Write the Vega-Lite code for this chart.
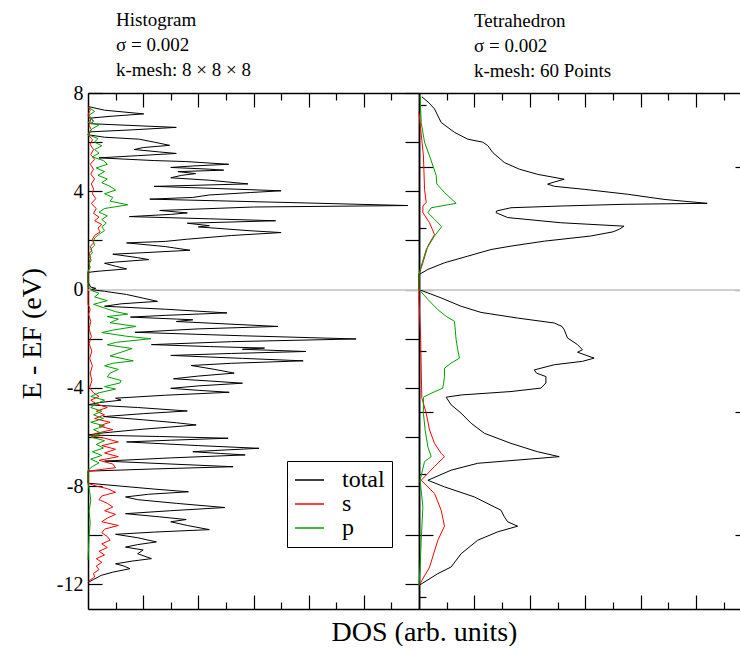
{
"$schema": "https://vega.github.io/schema/vega-lite/v6.json",
"bounds": "flush",
"spacing": 0,
"padding": {"left": 18, "top": 11, "right": 0, "bottom": 0},
"resolve": {"scale": {"color": "independent"}},
"config": {
  "font": "Liberation Serif",
  "view": {"stroke": null},
  "axis": {"grid": false, "labelFont": "Liberation Serif", "labelFontSize": 20, "labelColor": "black", "tickColor": "black", "domainColor": "black", "domainWidth": 1.5, "tickWidth": 1.2, "titleFont": "Liberation Serif", "titleFontWeight": "normal", "titleColor": "black", "titleFontSize": 28},
  "title": {"font": "Liberation Serif", "fontSize": 19, "fontWeight": "normal", "color": "black", "anchor": "start", "frame": "group", "lineHeight": 25},
  "legend": {"labelFont": "Liberation Serif", "labelFontSize": 24, "labelColor": "black"}
},
"datasets": {
"hist": [
{"E":7.45,"v":0,"o":"total"},{"E":7.3,"v":0.3,"o":"total"},{"E":7.15,"v":1.01,"o":"total"},{"E":7.05,"v":0.4,"o":"total"},{"E":6.98,"v":0.05,"o":"total"},{"E":6.85,"v":0.1,"o":"total"},{"E":6.75,"v":0.05,"o":"total"},{"E":6.6,"v":1.6,"o":"total"},{"E":6.5,"v":0.8,"o":"total"},{"E":6.42,"v":0.05,"o":"total"},{"E":6.3,"v":0,"o":"total"},{"E":6.2,"v":0.3,"o":"total"},{"E":6.12,"v":0.93,"o":"total"},{"E":6.0,"v":1.2,"o":"total"},{"E":5.87,"v":1.48,"o":"total"},{"E":5.78,"v":1.0,"o":"total"},{"E":5.7,"v":0.84,"o":"total"},{"E":5.6,"v":1.3,"o":"total"},{"E":5.54,"v":1.6,"o":"total"},{"E":5.45,"v":0.9,"o":"total"},{"E":5.36,"v":0.2,"o":"total"},{"E":5.25,"v":1.2,"o":"total"},{"E":5.21,"v":1.77,"o":"total"},{"E":5.1,"v":2.55,"o":"total"},{"E":5.03,"v":1.9,"o":"total"},{"E":4.97,"v":1.5,"o":"total"},{"E":4.9,"v":2.2,"o":"total"},{"E":4.86,"v":2.46,"o":"total"},{"E":4.8,"v":1.63,"o":"total"},{"E":4.72,"v":1.95,"o":"total"},{"E":4.65,"v":1.7,"o":"total"},{"E":4.55,"v":1.5,"o":"total"},{"E":4.45,"v":2.2,"o":"total"},{"E":4.3,"v":2.9,"o":"total"},{"E":4.2,"v":1.2,"o":"total"},{"E":4.1,"v":2.5,"o":"total"},{"E":4.02,"v":3.5,"o":"total"},{"E":3.95,"v":2.95,"o":"total"},{"E":3.85,"v":2.2,"o":"total"},{"E":3.75,"v":1.9,"o":"total"},{"E":3.68,"v":1.12,"o":"total"},{"E":3.55,"v":3.5,"o":"total"},{"E":3.42,"v":5.8,"o":"total"},{"E":3.36,"v":3.0,"o":"total"},{"E":3.22,"v":1.3,"o":"total"},{"E":3.12,"v":1.8,"o":"total"},{"E":3.06,"v":1.5,"o":"total"},{"E":2.97,"v":0.75,"o":"total"},{"E":2.88,"v":2.2,"o":"total"},{"E":2.8,"v":3.4,"o":"total"},{"E":2.7,"v":1.8,"o":"total"},{"E":2.6,"v":2.2,"o":"total"},{"E":2.55,"v":2.0,"o":"total"},{"E":2.4,"v":2.9,"o":"total"},{"E":2.32,"v":3.5,"o":"total"},{"E":2.2,"v":2.6,"o":"total"},{"E":2.05,"v":1.8,"o":"total"},{"E":1.96,"v":1.4,"o":"total"},{"E":1.9,"v":0.7,"o":"total"},{"E":1.75,"v":1.4,"o":"total"},{"E":1.6,"v":1.85,"o":"total"},{"E":1.5,"v":1.0,"o":"total"},{"E":1.44,"v":0.45,"o":"total"},{"E":1.3,"v":0.9,"o":"total"},{"E":1.22,"v":1.1,"o":"total"},{"E":1.12,"v":0.5,"o":"total"},{"E":1.07,"v":0.3,"o":"total"},{"E":0.95,"v":0.5,"o":"total"},{"E":0.84,"v":0.7,"o":"total"},{"E":0.75,"v":0.2,"o":"total"},{"E":0.7,"v":0,"o":"total"},{"E":0.3,"v":0,"o":"total"},{"E":0.1,"v":0.05,"o":"total"},{"E":0.05,"v":0.14,"o":"total"},{"E":0.0,"v":0.05,"o":"total"},
{"E":-0.07,"v":0.3,"o":"total"},{"E":-0.2,"v":0.7,"o":"total"},{"E":-0.35,"v":1.0,"o":"total"},{"E":-0.48,"v":1.26,"o":"total"},{"E":-0.58,"v":0.6,"o":"total"},{"E":-0.68,"v":0.3,"o":"total"},{"E":-0.8,"v":1.4,"o":"total"},{"E":-0.95,"v":2.52,"o":"total"},{"E":-1.05,"v":1.4,"o":"total"},{"E":-1.12,"v":0.77,"o":"total"},{"E":-1.2,"v":1.6,"o":"total"},{"E":-1.23,"v":1.9,"o":"total"},{"E":-1.3,"v":1.6,"o":"total"},{"E":-1.5,"v":3.44,"o":"total"},{"E":-1.6,"v":2.0,"o":"total"},{"E":-1.74,"v":0.85,"o":"total"},{"E":-1.88,"v":2.8,"o":"total"},{"E":-2.01,"v":4.86,"o":"total"},{"E":-2.12,"v":2.6,"o":"total"},{"E":-2.24,"v":1.15,"o":"total"},{"E":-2.32,"v":2.2,"o":"total"},{"E":-2.38,"v":3.2,"o":"total"},{"E":-2.43,"v":2.8,"o":"total"},{"E":-2.52,"v":3.95,"o":"total"},{"E":-2.6,"v":2.6,"o":"total"},{"E":-2.68,"v":1.5,"o":"total"},{"E":-2.8,"v":2.8,"o":"total"},{"E":-2.9,"v":3.9,"o":"total"},{"E":-3.0,"v":2.6,"o":"total"},{"E":-3.09,"v":1.87,"o":"total"},{"E":-3.25,"v":2.3,"o":"total"},{"E":-3.4,"v":2.65,"o":"total"},{"E":-3.52,"v":2.0,"o":"total"},{"E":-3.63,"v":1.55,"o":"total"},{"E":-3.72,"v":2.2,"o":"total"},{"E":-3.81,"v":2.8,"o":"total"},{"E":-3.92,"v":2.0,"o":"total"},{"E":-4.02,"v":1.5,"o":"total"},{"E":-4.1,"v":2.0,"o":"total"},{"E":-4.18,"v":2.56,"o":"total"},{"E":-4.3,"v":1.4,"o":"total"},{"E":-4.42,"v":0.5,"o":"total"},{"E":-4.5,"v":0.6,"o":"total"},{"E":-4.6,"v":0.2,"o":"total"},{"E":-4.69,"v":0,"o":"total"},{"E":-4.8,"v":0.9,"o":"total"},{"E":-4.94,"v":1.8,"o":"total"},{"E":-5.05,"v":1.0,"o":"total"},{"E":-5.17,"v":0.28,"o":"total"},{"E":-5.3,"v":1.0,"o":"total"},{"E":-5.42,"v":1.6,"o":"total"},{"E":-5.51,"v":1.96,"o":"total"},{"E":-5.7,"v":0.9,"o":"total"},{"E":-5.85,"v":0.2,"o":"total"},{"E":-5.92,"v":0,"o":"total"},{"E":-5.98,"v":1.3,"o":"total"},{"E":-6.05,"v":2.54,"o":"total"},{"E":-6.13,"v":1.5,"o":"total"},{"E":-6.2,"v":0.7,"o":"total"},{"E":-6.35,"v":2.0,"o":"total"},{"E":-6.46,"v":3.1,"o":"total"},{"E":-6.55,"v":2.3,"o":"total"},{"E":-6.6,"v":1.9,"o":"total"},{"E":-6.67,"v":2.4,"o":"total"},{"E":-6.73,"v":2.85,"o":"total"},{"E":-6.85,"v":1.5,"o":"total"},{"E":-6.98,"v":0.3,"o":"total"},{"E":-7.1,"v":1.5,"o":"total"},{"E":-7.21,"v":2.63,"o":"total"},{"E":-7.3,"v":1.2,"o":"total"},{"E":-7.39,"v":0,"o":"total"},{"E":-7.88,"v":0,"o":"total"},{"E":-8.0,"v":0.6,"o":"total"},{"E":-8.12,"v":1.2,"o":"total"},{"E":-8.23,"v":1.82,"o":"total"},{"E":-8.33,"v":1.1,"o":"total"},{"E":-8.44,"v":0.68,"o":"total"},{"E":-8.55,"v":0.9,"o":"total"},{"E":-8.7,"v":1.6,"o":"total"},{"E":-8.87,"v":2.48,"o":"total"},{"E":-9.0,"v":1.5,"o":"total"},{"E":-9.12,"v":0.68,"o":"total"},{"E":-9.25,"v":1.3,"o":"total"},{"E":-9.36,"v":1.78,"o":"total"},{"E":-9.45,"v":1.5,"o":"total"},{"E":-9.6,"v":1.8,"o":"total"},{"E":-9.77,"v":2.2,"o":"total"},{"E":-9.87,"v":1.2,"o":"total"},{"E":-9.96,"v":0.5,"o":"total"},{"E":-10.1,"v":0.9,"o":"total"},{"E":-10.27,"v":1.24,"o":"total"},{"E":-10.38,"v":0.9,"o":"total"},{"E":-10.48,"v":0.68,"o":"total"},{"E":-10.6,"v":1.0,"o":"total"},{"E":-10.75,"v":0.9,"o":"total"},{"E":-10.95,"v":1.15,"o":"total"},{"E":-11.05,"v":0.8,"o":"total"},{"E":-11.16,"v":0.5,"o":"total"},{"E":-11.25,"v":0.65,"o":"total"},{"E":-11.36,"v":0.76,"o":"total"},{"E":-11.5,"v":0.45,"o":"total"},{"E":-11.63,"v":0.24,"o":"total"},{"E":-11.8,"v":0.1,"o":"total"},{"E":-11.92,"v":0,"o":"total"},
{"E":7.45,"v":0,"o":"s"},{"E":7.3,"v":0.04,"o":"s"},{"E":7.1,"v":0,"o":"s"},{"E":6.9,"v":0.05,"o":"s"},{"E":6.7,"v":0.02,"o":"s"},{"E":6.5,"v":0.06,"o":"s"},{"E":6.3,"v":0,"o":"s"},{"E":6.1,"v":0.08,"o":"s"},{"E":5.9,"v":0.04,"o":"s"},{"E":5.7,"v":0.1,"o":"s"},{"E":5.5,"v":0.05,"o":"s"},{"E":5.3,"v":0.12,"o":"s"},{"E":5.1,"v":0.04,"o":"s"},{"E":4.9,"v":0.1,"o":"s"},{"E":4.7,"v":0.05,"o":"s"},{"E":4.5,"v":0.12,"o":"s"},{"E":4.3,"v":0.06,"o":"s"},{"E":4.1,"v":0.1,"o":"s"},{"E":3.9,"v":0.08,"o":"s"},{"E":3.7,"v":0.14,"o":"s"},{"E":3.5,"v":0.06,"o":"s"},{"E":3.3,"v":0.15,"o":"s"},{"E":3.1,"v":0.1,"o":"s"},{"E":2.95,"v":0.2,"o":"s"},{"E":2.8,"v":0.12,"o":"s"},{"E":2.65,"v":0.25,"o":"s"},{"E":2.5,"v":0.18,"o":"s"},{"E":2.35,"v":0.22,"o":"s"},{"E":2.2,"v":0.12,"o":"s"},{"E":2.05,"v":0.08,"o":"s"},{"E":1.9,"v":0.1,"o":"s"},{"E":1.75,"v":0.04,"o":"s"},{"E":1.6,"v":0.07,"o":"s"},{"E":1.45,"v":0.02,"o":"s"},{"E":1.3,"v":0.05,"o":"s"},{"E":1.1,"v":0.02,"o":"s"},{"E":0.9,"v":0.03,"o":"s"},{"E":0.7,"v":0,"o":"s"},{"E":-0.6,"v":0,"o":"s"},{"E":-0.8,"v":0.04,"o":"s"},{"E":-1.0,"v":0.01,"o":"s"},{"E":-1.3,"v":0.05,"o":"s"},{"E":-1.6,"v":0.02,"o":"s"},{"E":-1.9,"v":0.06,"o":"s"},{"E":-2.2,"v":0.02,"o":"s"},{"E":-2.5,"v":0.07,"o":"s"},{"E":-2.8,"v":0.03,"o":"s"},{"E":-3.1,"v":0.08,"o":"s"},{"E":-3.4,"v":0.04,"o":"s"},{"E":-3.7,"v":0.07,"o":"s"},{"E":-4.0,"v":0.03,"o":"s"},{"E":-4.2,"v":0.1,"o":"s"},{"E":-4.35,"v":0.2,"o":"s"},{"E":-4.5,"v":0.05,"o":"s"},{"E":-4.65,"v":0.15,"o":"s"},{"E":-4.8,"v":0.35,"o":"s"},{"E":-4.95,"v":0.15,"o":"s"},{"E":-5.1,"v":0.3,"o":"s"},{"E":-5.25,"v":0.12,"o":"s"},{"E":-5.4,"v":0.4,"o":"s"},{"E":-5.55,"v":0.2,"o":"s"},{"E":-5.7,"v":0.45,"o":"s"},{"E":-5.85,"v":0.15,"o":"s"},{"E":-5.95,"v":0.05,"o":"s"},{"E":-6.05,"v":0.3,"o":"s"},{"E":-6.2,"v":0.55,"o":"s"},{"E":-6.35,"v":0.25,"o":"s"},{"E":-6.5,"v":0.5,"o":"s"},{"E":-6.65,"v":0.3,"o":"s"},{"E":-6.8,"v":0.55,"o":"s"},{"E":-6.95,"v":0.2,"o":"s"},{"E":-7.1,"v":0.45,"o":"s"},{"E":-7.25,"v":0.5,"o":"s"},{"E":-7.39,"v":0,"o":"s"},{"E":-7.88,"v":0,"o":"s"},{"E":-8.0,"v":0.15,"o":"s"},{"E":-8.1,"v":0.35,"o":"s"},{"E":-8.25,"v":0.5,"o":"s"},{"E":-8.4,"v":0.25,"o":"s"},{"E":-8.55,"v":0.2,"o":"s"},{"E":-8.7,"v":0.35,"o":"s"},{"E":-8.85,"v":0.45,"o":"s"},{"E":-9.0,"v":0.3,"o":"s"},{"E":-9.15,"v":0.5,"o":"s"},{"E":-9.3,"v":0.35,"o":"s"},{"E":-9.45,"v":0.25,"o":"s"},{"E":-9.6,"v":0.55,"o":"s"},{"E":-9.75,"v":0.3,"o":"s"},{"E":-9.9,"v":0.25,"o":"s"},{"E":-10.05,"v":0.35,"o":"s"},{"E":-10.2,"v":0.4,"o":"s"},{"E":-10.35,"v":0.25,"o":"s"},{"E":-10.5,"v":0.35,"o":"s"},{"E":-10.65,"v":0.2,"o":"s"},{"E":-10.8,"v":0.3,"o":"s"},{"E":-10.95,"v":0.15,"o":"s"},{"E":-11.1,"v":0.25,"o":"s"},{"E":-11.25,"v":0.15,"o":"s"},{"E":-11.4,"v":0.2,"o":"s"},{"E":-11.55,"v":0.1,"o":"s"},{"E":-11.7,"v":0.12,"o":"s"},{"E":-11.85,"v":0.02,"o":"s"},{"E":-11.92,"v":0,"o":"s"},
{"E":7.4,"v":0.02,"o":"p"},{"E":7.25,"v":0.12,"o":"p"},{"E":7.1,"v":0.02,"o":"p"},{"E":6.95,"v":0.06,"o":"p"},{"E":6.8,"v":0,"o":"p"},{"E":6.7,"v":0.2,"o":"p"},{"E":6.55,"v":0.08,"o":"p"},{"E":6.4,"v":0.02,"o":"p"},{"E":6.3,"v":0,"o":"p"},{"E":6.15,"v":0.18,"o":"p"},{"E":6.0,"v":0.12,"o":"p"},{"E":5.85,"v":0.25,"o":"p"},{"E":5.7,"v":0.12,"o":"p"},{"E":5.55,"v":0.2,"o":"p"},{"E":5.4,"v":0.08,"o":"p"},{"E":5.25,"v":0.28,"o":"p"},{"E":5.1,"v":0.35,"o":"p"},{"E":4.95,"v":0.15,"o":"p"},{"E":4.8,"v":0.3,"o":"p"},{"E":4.65,"v":0.18,"o":"p"},{"E":4.5,"v":0.35,"o":"p"},{"E":4.35,"v":0.25,"o":"p"},{"E":4.2,"v":0.4,"o":"p"},{"E":4.05,"v":0.5,"o":"p"},{"E":3.9,"v":0.3,"o":"p"},{"E":3.75,"v":0.45,"o":"p"},{"E":3.6,"v":0.4,"o":"p"},{"E":3.45,"v":0.72,"o":"p"},{"E":3.3,"v":0.3,"o":"p"},{"E":3.15,"v":0.2,"o":"p"},{"E":3.0,"v":0.35,"o":"p"},{"E":2.85,"v":0.25,"o":"p"},{"E":2.7,"v":0.33,"o":"p"},{"E":2.55,"v":0.25,"o":"p"},{"E":2.4,"v":0.3,"o":"p"},{"E":2.25,"v":0.2,"o":"p"},{"E":2.1,"v":0.12,"o":"p"},{"E":1.95,"v":0.1,"o":"p"},{"E":1.8,"v":0.12,"o":"p"},{"E":1.65,"v":0.05,"o":"p"},{"E":1.5,"v":0.08,"o":"p"},{"E":1.35,"v":0.02,"o":"p"},{"E":1.2,"v":0.06,"o":"p"},{"E":1.05,"v":0.02,"o":"p"},{"E":0.9,"v":0.04,"o":"p"},{"E":0.75,"v":0,"o":"p"},{"E":0.1,"v":0,"o":"p"},{"E":0.05,"v":0.04,"o":"p"},{"E":-0.05,"v":0.08,"o":"p"},{"E":-0.15,"v":0.2,"o":"p"},{"E":-0.3,"v":0.12,"o":"p"},{"E":-0.45,"v":0.35,"o":"p"},{"E":-0.6,"v":0.1,"o":"p"},{"E":-0.75,"v":0.3,"o":"p"},{"E":-0.9,"v":0.5,"o":"p"},{"E":-1.0,"v":0.72,"o":"p"},{"E":-1.1,"v":0.35,"o":"p"},{"E":-1.2,"v":0.55,"o":"p"},{"E":-1.35,"v":0.4,"o":"p"},{"E":-1.5,"v":0.87,"o":"p"},{"E":-1.65,"v":0.45,"o":"p"},{"E":-1.75,"v":0.25,"o":"p"},{"E":-1.9,"v":0.7,"o":"p"},{"E":-2.0,"v":1.14,"o":"p"},{"E":-2.15,"v":0.5,"o":"p"},{"E":-2.25,"v":0.35,"o":"p"},{"E":-2.4,"v":0.8,"o":"p"},{"E":-2.55,"v":0.6,"o":"p"},{"E":-2.7,"v":0.4,"o":"p"},{"E":-2.9,"v":0.82,"o":"p"},{"E":-3.0,"v":0.45,"o":"p"},{"E":-3.1,"v":0.3,"o":"p"},{"E":-3.25,"v":0.55,"o":"p"},{"E":-3.4,"v":0.4,"o":"p"},{"E":-3.55,"v":0.35,"o":"p"},{"E":-3.7,"v":0.6,"o":"p"},{"E":-3.8,"v":0.58,"o":"p"},{"E":-3.95,"v":0.3,"o":"p"},{"E":-4.05,"v":0.5,"o":"p"},{"E":-4.2,"v":0.2,"o":"p"},{"E":-4.35,"v":0.05,"o":"p"},{"E":-4.5,"v":0.3,"o":"p"},{"E":-4.65,"v":0.15,"o":"p"},{"E":-4.8,"v":0.05,"o":"p"},{"E":-4.95,"v":0.25,"o":"p"},{"E":-5.1,"v":0.1,"o":"p"},{"E":-5.25,"v":0.28,"o":"p"},{"E":-5.4,"v":0.05,"o":"p"},{"E":-5.55,"v":0.3,"o":"p"},{"E":-5.7,"v":0.1,"o":"p"},{"E":-5.85,"v":0.25,"o":"p"},{"E":-6.0,"v":0.05,"o":"p"},{"E":-6.15,"v":0.3,"o":"p"},{"E":-6.3,"v":0.15,"o":"p"},{"E":-6.45,"v":0.28,"o":"p"},{"E":-6.6,"v":0.08,"o":"p"},{"E":-6.75,"v":0.25,"o":"p"},{"E":-6.9,"v":0.05,"o":"p"},{"E":-7.05,"v":0.2,"o":"p"},{"E":-7.2,"v":0.08,"o":"p"},{"E":-7.35,"v":0,"o":"p"},{"E":-7.88,"v":0,"o":"p"},{"E":-8.2,"v":0.03,"o":"p"},{"E":-8.6,"v":0.05,"o":"p"},{"E":-9.0,"v":0.02,"o":"p"},{"E":-9.5,"v":0.04,"o":"p"},{"E":-10.0,"v":0.02,"o":"p"},{"E":-10.5,"v":0.01,"o":"p"},{"E":-11.0,"v":0,"o":"p"}
],
"tetra": [
{"E":7.85,"v":0.05,"o":"total"},{"E":7.6,"v":0.18,"o":"total"},{"E":7.35,"v":0.28,"o":"total"},{"E":6.8,"v":0.4,"o":"total"},{"E":6.4,"v":0.64,"o":"total"},{"E":6.12,"v":0.88,"o":"total"},{"E":6.0,"v":1.15,"o":"total"},{"E":5.86,"v":1.24,"o":"total"},{"E":5.58,"v":1.33,"o":"total"},{"E":5.17,"v":1.54,"o":"total"},{"E":4.9,"v":1.81,"o":"total"},{"E":4.69,"v":2.14,"o":"total"},{"E":4.49,"v":2.62,"o":"total"},{"E":4.35,"v":2.4,"o":"total"},{"E":4.29,"v":2.32,"o":"total"},{"E":4.2,"v":2.45,"o":"total"},{"E":4.08,"v":2.98,"o":"total"},{"E":3.88,"v":3.76,"o":"total"},{"E":3.67,"v":4.42,"o":"total"},{"E":3.51,"v":5.2,"o":"total"},{"E":3.47,"v":3.7,"o":"total"},{"E":3.4,"v":2.56,"o":"total"},{"E":3.33,"v":1.66,"o":"total"},{"E":3.2,"v":1.4,"o":"total"},{"E":3.13,"v":1.39,"o":"total"},{"E":2.93,"v":1.6,"o":"total"},{"E":2.72,"v":2.56,"o":"total"},{"E":2.58,"v":3.7,"o":"total"},{"E":2.45,"v":3.61,"o":"total"},{"E":2.35,"v":3.5,"o":"total"},{"E":2.18,"v":3.1,"o":"total"},{"E":1.97,"v":2.26,"o":"total"},{"E":1.77,"v":1.66,"o":"total"},{"E":1.63,"v":1.3,"o":"total"},{"E":1.36,"v":0.88,"o":"total"},{"E":1.09,"v":0.46,"o":"total"},{"E":0.82,"v":0.16,"o":"total"},{"E":0.61,"v":0,"o":"total"},{"E":0.0,"v":0,"o":"total"},{"E":-0.34,"v":0.4,"o":"total"},{"E":-0.68,"v":0.76,"o":"total"},{"E":-0.93,"v":1.12,"o":"total"},{"E":-1.16,"v":1.78,"o":"total"},{"E":-1.36,"v":2.44,"o":"total"},{"E":-1.5,"v":2.58,"o":"total"},{"E":-1.63,"v":2.62,"o":"total"},{"E":-1.97,"v":2.68,"o":"total"},{"E":-2.24,"v":2.86,"o":"total"},{"E":-2.45,"v":2.95,"o":"total"},{"E":-2.55,"v":2.86,"o":"total"},{"E":-2.79,"v":3.16,"o":"total"},{"E":-2.92,"v":2.95,"o":"total"},{"E":-3.06,"v":2.44,"o":"total"},{"E":-3.27,"v":2.08,"o":"total"},{"E":-3.4,"v":2.12,"o":"total"},{"E":-3.54,"v":2.29,"o":"total"},{"E":-3.8,"v":2.29,"o":"total"},{"E":-4.01,"v":2.2,"o":"total"},{"E":-4.15,"v":1.66,"o":"total"},{"E":-4.29,"v":0.76,"o":"total"},{"E":-4.38,"v":0.49,"o":"total"},{"E":-4.69,"v":0.58,"o":"total"},{"E":-5.03,"v":0.76,"o":"total"},{"E":-5.44,"v":0.94,"o":"total"},{"E":-5.85,"v":1.18,"o":"total"},{"E":-6.26,"v":1.66,"o":"total"},{"E":-6.6,"v":2.14,"o":"total"},{"E":-6.8,"v":2.53,"o":"total"},{"E":-7.07,"v":1.06,"o":"total"},{"E":-7.35,"v":0.58,"o":"total"},{"E":-7.76,"v":0.16,"o":"total"},{"E":-8.03,"v":0.46,"o":"total"},{"E":-8.44,"v":1.0,"o":"total"},{"E":-8.98,"v":1.48,"o":"total"},{"E":-9.25,"v":1.54,"o":"total"},{"E":-9.45,"v":1.6,"o":"total"},{"E":-9.63,"v":1.78,"o":"total"},{"E":-9.86,"v":1.42,"o":"total"},{"E":-10.2,"v":1.06,"o":"total"},{"E":-10.75,"v":0.76,"o":"total"},{"E":-11.29,"v":0.58,"o":"total"},{"E":-11.56,"v":0.34,"o":"total"},{"E":-12.04,"v":0,"o":"total"},
{"E":7.2,"v":0,"o":"s"},{"E":5.44,"v":0.08,"o":"s"},{"E":4.08,"v":0.1,"o":"s"},{"E":3.55,"v":0.13,"o":"s"},{"E":3.4,"v":0.07,"o":"s"},{"E":3.13,"v":0.07,"o":"s"},{"E":2.72,"v":0.19,"o":"s"},{"E":2.24,"v":0.28,"o":"s"},{"E":1.77,"v":0.16,"o":"s"},{"E":1.09,"v":0.07,"o":"s"},{"E":0.61,"v":0,"o":"s"},{"E":-0.4,"v":0,"o":"s"},{"E":-2.0,"v":0.03,"o":"s"},{"E":-4.4,"v":0.05,"o":"s"},{"E":-5.03,"v":0.13,"o":"s"},{"E":-5.71,"v":0.19,"o":"s"},{"E":-6.26,"v":0.28,"o":"s"},{"E":-6.67,"v":0.4,"o":"s"},{"E":-6.8,"v":0.46,"o":"s"},{"E":-7.2,"v":0.28,"o":"s"},{"E":-7.76,"v":0.04,"o":"s"},{"E":-8.3,"v":0.28,"o":"s"},{"E":-8.98,"v":0.4,"o":"s"},{"E":-9.63,"v":0.46,"o":"s"},{"E":-10.2,"v":0.34,"o":"s"},{"E":-11.3,"v":0.19,"o":"s"},{"E":-12.04,"v":0,"o":"s"},
{"E":7.9,"v":0.02,"o":"p"},{"E":6.8,"v":0.04,"o":"p"},{"E":6.0,"v":0.1,"o":"p"},{"E":5.44,"v":0.19,"o":"p"},{"E":4.65,"v":0.31,"o":"p"},{"E":4.3,"v":0.32,"o":"p"},{"E":3.95,"v":0.46,"o":"p"},{"E":3.51,"v":0.67,"o":"p"},{"E":3.33,"v":0.22,"o":"p"},{"E":3.13,"v":0.16,"o":"p"},{"E":2.86,"v":0.28,"o":"p"},{"E":2.56,"v":0.41,"o":"p"},{"E":2.18,"v":0.28,"o":"p"},{"E":1.63,"v":0.13,"o":"p"},{"E":0.95,"v":0.04,"o":"p"},{"E":0.61,"v":0,"o":"p"},{"E":0.0,"v":0,"o":"p"},{"E":-0.4,"v":0.16,"o":"p"},{"E":-0.82,"v":0.34,"o":"p"},{"E":-1.09,"v":0.49,"o":"p"},{"E":-1.29,"v":0.64,"o":"p"},{"E":-2.04,"v":0.67,"o":"p"},{"E":-2.45,"v":0.7,"o":"p"},{"E":-2.79,"v":0.73,"o":"p"},{"E":-2.99,"v":0.58,"o":"p"},{"E":-3.2,"v":0.46,"o":"p"},{"E":-3.54,"v":0.46,"o":"p"},{"E":-4.01,"v":0.43,"o":"p"},{"E":-4.22,"v":0.22,"o":"p"},{"E":-4.38,"v":0.08,"o":"p"},{"E":-5.03,"v":0.08,"o":"p"},{"E":-5.71,"v":0.11,"o":"p"},{"E":-6.4,"v":0.16,"o":"p"},{"E":-6.8,"v":0.22,"o":"p"},{"E":-7.0,"v":0.1,"o":"p"},{"E":-7.76,"v":0.02,"o":"p"},{"E":-8.84,"v":0.07,"o":"p"},{"E":-10.2,"v":0.04,"o":"p"},{"E":-11.3,"v":0.02,"o":"p"},{"E":-12.04,"v":0,"o":"p"}
]
},
"hconcat": [
{
  "width": 331, "height": 516,
  "title": {"text": ["Histogram", "σ = 0.002", "k-mesh: 8 × 8 × 8"], "dx": 28, "font": "Liberation Serif", "fontSize": 19, "fontWeight": "normal", "anchor": "start", "frame": "group", "lineHeight": 25, "offset": 3},
  "data": {"name": "hist"},
  "resolve": {"axis": {"x": "independent", "y": "independent"}},
  "layer": [
    {"mark": {"type": "rule", "color": "#d0d0d0", "strokeWidth": 1},
     "encoding": {"y": {"datum": 0, "type": "quantitative", "scale": {"domain": [-13, 8], "nice": false, "zero": false}, "axis": null}}},
    {"mark": {"type": "line", "strokeWidth": 1},
     "encoding": {
       "x": {"field": "v", "type": "quantitative", "scale": {"domain": [0, 6], "nice": false, "zero": false},
             "axis": {"orient": "bottom", "values": [1,2,3,4,5], "tickSize": -14, "labels": false, "domain": true, "title": "DOS (arb. units)", "titleFont": "Liberation Serif", "titleFontSize": 28, "titleFontWeight": "normal", "titleX": 336, "titleY": 31, "titleBaseline": "alphabetic", "titleAnchor": "middle", "titleAlign": "center"}},
       "y": {"field": "E", "type": "quantitative", "scale": {"domain": [-13, 8], "nice": false, "zero": false},
             "axis": {"orient": "left", "values": [-12,-10,-8,-6,-4,-2,0,2,4,6,8], "tickSize": -14, "labelPadding": 19, "labelFont": "Liberation Serif", "labelFontSize": 20, "labelExpr": "datum.value % 4 == 0 ? '' + datum.value : ''", "domain": true, "title": "E - EF  (eV)", "titleFont": "Liberation Serif", "titleFontSize": 28, "titleFontWeight": "normal", "titlePadding": 10, "titleY": 240, "titleAnchor": "middle", "titleAlign": "center"}},
       "color": {"field": "o", "type": "nominal", "sort": ["total", "s", "p"],
                 "scale": {"domain": ["total", "s", "p"], "range": ["#000000", "#ff0000", "#00a000"]},
                 "legend": {"orient": "none", "legendX": 199, "legendY": 368, "title": null, "strokeColor": "black", "fillColor": "white", "padding": 7, "symbolType": "stroke", "symbolSize": 841, "symbolStrokeWidth": 1.5, "labelOffset": 17, "rowPadding": 0, "clipHeight": 24, "labelFont": "Liberation Serif", "labelFontSize": 24, "labelColor": "black", "labelExpr": "datum.label + ' '"}},
       "order": {"field": "E", "type": "quantitative"}
     }},
    {"mark": {"type": "point", "opacity": 0},
     "encoding": {
       "x": {"field": "v", "type": "quantitative", "scale": {"domain": [0, 6], "nice": false, "zero": false},
             "axis": {"orient": "bottom", "values": [0.5,1.5,2.5,3.5,4.5,5.5], "tickSize": -7, "labels": false, "domain": false, "title": null}},
       "y": {"field": "E", "type": "quantitative", "scale": {"domain": [-13, 8], "nice": false, "zero": false},
             "axis": {"orient": "right", "values": [-12,-10,-8,-6,-4,-2,0,2,4,6,8], "tickSize": -14, "labels": false, "domain": true, "title": null}}
     }},
    {"mark": {"type": "point", "opacity": 0},
     "encoding": {
       "x": {"field": "v", "type": "quantitative", "scale": {"domain": [0, 6], "nice": false, "zero": false},
             "axis": {"orient": "top", "values": [1,2,3,4,5], "tickSize": -14, "labels": false, "domain": true, "title": null}},
       "y": {"field": "E", "type": "quantitative", "scale": {"domain": [-13, 8], "nice": false, "zero": false}, "axis": null}
     }},
    {"mark": {"type": "point", "opacity": 0},
     "encoding": {
       "x": {"field": "v", "type": "quantitative", "scale": {"domain": [0, 6], "nice": false, "zero": false},
             "axis": {"orient": "top", "values": [0.5,1.5,2.5,3.5,4.5,5.5], "tickSize": -7, "labels": false, "domain": false, "title": null}},
       "y": {"field": "E", "type": "quantitative", "scale": {"domain": [-13, 8], "nice": false, "zero": false}, "axis": null}
     }}
  ]
},
{
  "width": 322, "height": 516,
  "title": {"text": ["Tetrahedron", "σ = 0.002", "k-mesh: 60 Points"], "dx": 55, "font": "Liberation Serif", "fontSize": 19, "fontWeight": "normal", "anchor": "start", "frame": "group", "lineHeight": 25, "offset": 11},
  "data": {"name": "tetra"},
  "resolve": {"axis": {"x": "independent", "y": "independent"}},
  "layer": [
    {"mark": {"type": "rule", "color": "#d0d0d0", "strokeWidth": 1},
     "encoding": {"y": {"datum": 0, "type": "quantitative", "scale": {"domain": [-13, 8], "nice": false, "zero": false}, "axis": null}}},
    {"mark": {"type": "line", "strokeWidth": 1},
     "encoding": {
       "x": {"field": "v", "type": "quantitative", "scale": {"domain": [0, 5.81], "nice": false, "zero": false},
             "axis": {"orient": "bottom", "values": [1,2,3,4,5], "tickSize": -14, "labels": false, "domain": true, "title": null}},
       "y": {"field": "E", "type": "quantitative", "scale": {"domain": [-13, 8], "nice": false, "zero": false},
             "axis": {"orient": "left", "values": [-10,-5,0,5], "tickSize": -14, "labels": false, "domain": true, "title": null}},
       "color": {"field": "o", "type": "nominal",
                 "scale": {"domain": ["total", "s", "p"], "range": ["#000000", "#ff0000", "#00a000"]}, "legend": null},
       "order": {"field": "E", "type": "quantitative"}
     }},
    {"mark": {"type": "point", "opacity": 0},
     "encoding": {
       "x": {"field": "v", "type": "quantitative", "scale": {"domain": [0, 5.81], "nice": false, "zero": false},
             "axis": {"orient": "bottom", "values": [0.5,1.5,2.5,3.5,4.5,5.5], "tickSize": -7, "labels": false, "domain": false, "title": null}},
       "y": {"field": "E", "type": "quantitative", "scale": {"domain": [-13, 8], "nice": false, "zero": false},
             "axis": {"orient": "left", "values": [-12.5,-7.5,-2.5,2.5,7.5], "tickSize": -7, "labels": false, "domain": false, "title": null}}
     }},
    {"mark": {"type": "point", "opacity": 0},
     "encoding": {
       "x": {"field": "v", "type": "quantitative", "scale": {"domain": [0, 5.81], "nice": false, "zero": false},
             "axis": {"orient": "top", "values": [1,2,3,4,5], "tickSize": -14, "labels": false, "domain": true, "title": null}},
       "y": {"field": "E", "type": "quantitative", "scale": {"domain": [-13, 8], "nice": false, "zero": false},
             "axis": {"orient": "right", "values": [-10,-5,0,5], "tickSize": -6, "labels": false, "domain": false, "title": null}}
     }},
    {"mark": {"type": "point", "opacity": 0},
     "encoding": {
       "x": {"field": "v", "type": "quantitative", "scale": {"domain": [0, 5.81], "nice": false, "zero": false},
             "axis": {"orient": "top", "values": [0.5,1.5,2.5,3.5,4.5,5.5], "tickSize": -7, "labels": false, "domain": false, "title": null}},
       "y": {"field": "E", "type": "quantitative", "scale": {"domain": [-13, 8], "nice": false, "zero": false}, "axis": null}
     }}
  ]
}
]
}
